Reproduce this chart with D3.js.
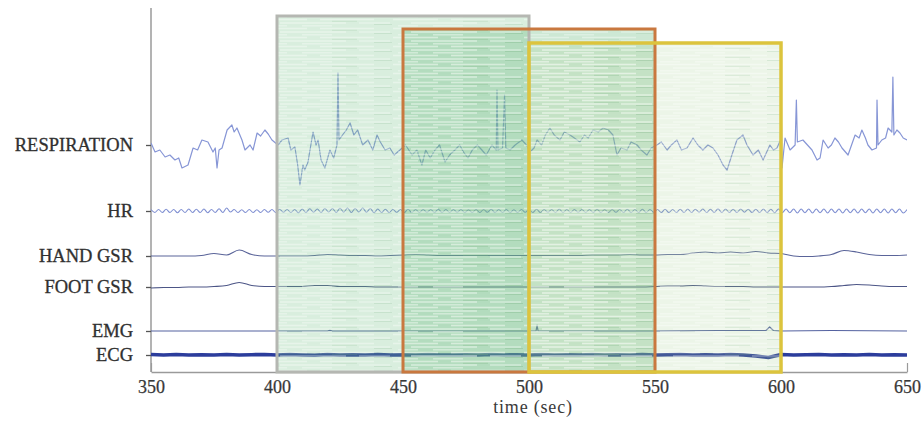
<!DOCTYPE html>
<html>
<head>
<meta charset="utf-8">
<script src="https://cdn.jsdelivr.net/npm/d3@7"></script>
<style>
  body { margin: 0; background: #fff; }
  svg { display: block; }
  text { font-family: "Liberation Serif", "Times New Roman", serif; }
</style>
</head>
<body>
<div id="chart"></div>
<script>
// channel names (top to bottom) and x axis ticks
const channels = ["RESPIRATION", "HR", "HAND GSR", "FOOT GSR", "EMG", "ECG"];
const xTicks = [350, 400, 450, 500, 550, 600, 650];

// the three analysis windows (sec)
const windowStart = [400, 450, 500];
const windowEnd = [500, 550, 600];

// respiration (time in sec, amplitude in arbitrary units)
const respTime = [350, 351.6, 353.5, 355.6, 357.5, 359.5, 361, 362.3, 364.7, 366.7, 368.5, 370.2, 372.6, 374.6, 375.5, 376.2, 377, 378.2,
  380.2, 382.1, 383, 384.1, 386.1, 387.3, 389.3, 390.5, 392.1, 393.5, 395.2, 396.5, 398, 400.4, 402, 404.4, 405.5, 407.1, 408.2,
  409.1, 410.3, 411, 412.3, 414.3, 415.5, 416.3, 417.5, 419, 421, 422.5, 423.8, 424.2, 424.6, 426, 427.5, 429, 430.5, 432, 434,
  436.1, 438, 439.7, 441, 442.9, 444.8, 446.5, 448.8, 451, 453.6, 455.5, 457.5, 459, 460.8, 462.7, 464.5, 466.7, 468.5, 470.6,
  472.5, 474, 475.8, 477.5, 479.5, 481.3, 483, 485.3, 487, 487.3, 487.7, 489.5, 490.3, 490.8, 492.5, 494.5, 497.2, 499, 500.4,
  502, 503.2, 505, 506.5, 508.3, 510, 512.3, 514, 516.3, 518, 520.2, 522, 523.5, 525.4, 527.5, 529.4, 531.5, 533.3, 534.9,
  536.5, 538.9, 540.5, 542.9, 544.5, 546.8, 548.5, 550.8, 552.5, 554.8, 556.5, 558.7, 560.5, 562.7, 565.1, 567, 569, 571, 573,
  575, 577, 578.6, 580.5, 582.5, 584.9, 586.5, 588.9, 591, 592.9, 595.6, 597, 598.4, 599.8, 600, 600.4, 601.6, 603.6, 605.6,
  606.1, 606.5, 608.7, 610.5, 612.3, 614.3, 615.5, 616.7, 618.7, 620, 621.4, 622.8, 624.2, 626.6, 628, 629.4, 631, 632.1, 633.5,
  634.5, 636.1, 637.9, 638.1, 638.5, 640, 641.5, 642.5, 644, 644.4, 644.8, 646, 647.2, 648.5, 650];
const respValue = [2, -7, -5, -12, -10, -15, -13, -23, -20, -3, -5, 5, 3, -7, -3, -23, -5, -3,
  15, 20, 13, 17, 5, -5, 0, -5, 12, 9, 15, 11, 5, 0, 5, 7, -5, -2, -20,
  -40, -20, -25, -17, 13, 0, 5, -15, -23, -5, -13, 0, 72, 5, 10, 15, 22, 10, 15, 0,
  5, -5, 10, 3, -5, -3, -10, -5, 0, -10, -5, -20, -5, -13, -5, 0, -17, -10, -5,
  0, -7, -13, -5, 0, -5, -10, 0, -5, 55, -5, -3, 50, -3, -5, 0, 5, 0, -7,
  -3, 5, 0, 10, 17, 10, 5, 13, 10, 7, 3, 10, 7, 15, 13, 17, 15, 10, -10,
  -3, -5, 3, 0, -5, -10, -3, 0, 3, -5, 0, 5, -5, -3, 7, 0, -5, 0, -3,
  -10, -20, -25, -10, 5, 10, 0, -10, -5, -15, 0, -5, -3, 5, 57, -23, 7, -5, 0,
  45, 3, 5, 0, -5, -15, -13, 5, -3, 0, 7, 3, -3, -10, 0, 10, 7, 15, 7,
  0, -5, -3, 45, 0, 5, 7, 17, 13, 68, 10, 15, 12, 7, 5];

// heart rate ripple, one value every 1.5 sec from 350
const hrStep = 1.5;
const hrValue = [
  1.5, -1.5, 1.5, -1.5, 1.8, -1.5, 1.5, -1.8, 1.5, -1.5, 2, -1.5, 1.8, -1.5, 2, -1.8, 1.5, -1.5, 2.2, -1.5,
  3, -1, 1.5, -1.5, 1.2, -1.5, 1.5, -1.5, 1.2, -1.5, 1.5, -1.2, 1.5, -1.5, 1.8, -1.2, 1.5, -1.5, 1.5, -1.8,
  2, -1.5, 2.2, -1.2, 2, -1.5, 2.5, -1, 2.5, -1.5, 2.8, -1.2, 3, -1.5, 2.5, -1, 3, -1.2, 2.5, -1.8,
  2, -1.5, 1.8, -1.5, 1.5, -1.2, 1.5, -1.5, 1.8, -1.5, 1.5, -1.5, 1.5, -1.2, 1.5, -1.5, 1.8, -1.5, 1.5, -1.5,
  1.5, -1.2, 1.5, -1.5, 1.2, -1.5, 1.5, -1.5, 1.5, -1.2, 1.8, -1.5, 1.5, -1.5, 1.5, -1.5, 1.2, -1.5, 1.5, -1.2,
  1.5, -1.5, 1.8, -1.5, 1.5, -1.2, 1.5, -1.5, 2, -1.5, 1.5, -1.5, 1.5, -1.2, 1.5, -1.5, 1.5, -1.5, 1.8, -1.5,
  1.5, -1.5, 1.5, -1.2, 1.5, -1.5, 1.8, -1.5, 1.5, -1.5, 1.8, -1.5, 1.5, -1.2, 1.5, -1.5, 1.8, -1.5, 1.5, -1.5,
  1.8, -1.5, 2, -1.5, 1.8, -1.2, 2, -1.5, 1.8, -1.5, 2.2, -1.5, 2, -1.5, 1.8, -1.5, 2, -1.2, 1.8, -1.5,
  1.8, -1.5, 2, -1.5, 1.8, -1.8, 2, -1.8, 2, -1.8, 2, -2, 2, -1.8, 2, -2, 2, -1.8, 2, -2,
  2, -1.8, 2, -2, 2, -1.8, 2, -2, 2, -1.8, 2, -2, 2, -1.8, 2, -2, 2, -1.8, 2, -2,
  1.5];

// skin conductance, one value every 5 sec from 350
const gsrStep = 5;
const handGsr = [0, 0, 0, 0, 0.5, 2.5, 1, 6, 1.5, 0, 0, 0, 0, 0.5, 1.5, 1, 0.5, 0.5, 0, 0.5,
  1, 1.5, 1, 0.5, 0.5, 0.5, 0.5, 0.5, 0.5, 0.5, 0.5, 0.5, 0.5, 0.5, 0.5, 1, 1, 1, 1.5, 1,
  1, 1.5, 1.5, 3, 4, 3, 4, 3, 4.5, 3, 2.5, 0, -0.5, 0, 1.5, 5.5, 4, 1.5, 0.5, 0.5, 1];
const footGsr = [-1, -0.5, -0.5, 0, 0, 0.5, 1.5, 4.5, 1.5, 0.5, 0.5, 0.5, 0.5, 1.5, 1.5, 0.5, 0.5, 0.5, 0, 0,
  0, 0, 0, 0, 0, 0, 0, 0, 0, 0, 0, 0, 0, 0, 0, 0, 0, 0, 0, 0,
  0.5, 1, 1, 1.5, 1, 0.5, 0.5, 0.5, 0, 0, 0, 0, 0, 0, 0.5, 1.5, 2.5, 2, 1, 0.5, 0.5];

// EMG is flat apart from two blips
const emgTime = [350, 420, 421, 422, 502.8, 503.2, 503.6, 550, 575, 594, 595.5, 597, 600, 620, 650];
const emgValue = [0, 0, 0.6, 0, 0, 6, 0, 0, 0.5, 0.5, 4, 0.5, 0, 0.5, 0];

// ECG band, one value every 5 sec from 350
const ecgStep = 5;
const ecgValue = [0.5, 0, 0.5, 0, 0.3, 0, 0.5, 0, 0.3, 0.5, 0, 0.5, 0, -0.3, 0.5, 0, 0.3, 0, 0.5, 0,
  0.3, 0, 0.5, 0, 0, 0.3, 0, 0.5, 0, 0.3, 0, 0.5, 0, 0.3, 0, 0.5, 0, 0.3, 0, 0.5,
  0, 0.3, 0.5, 0, 0.3, 0, 0.5, 0, -1, -2.5, 0.5, 0, 0.3, 0.5, 0, 0.3, 0, 0.5, 0, 0.3, 0];

// set the dimensions of the graph
const width = 923, height = 421;
const plot = { left: 151, right: 907, top: 8, bottom: 372 };

const svg = d3.select("#chart")
  .append("svg")
    .attr("width", width)
    .attr("height", height);

svg.append("rect").attr("width", width).attr("height", height).attr("fill", "#fff");

const x = d3.scaleLinear()
  .domain([350, 650])
  .range([plot.left, plot.right]);

// baseline of each trace
const baseline = d3.scaleOrdinal()
  .domain(channels)
  .range([145, 211, 256, 287, 331, 355]);

// amplitude scale for one channel (1 unit = 1 px upward)
const yFor = name => d3.scaleLinear()
  .domain([-50, 100])
  .range([baseline(name) + 50, baseline(name) - 100]);

const traces = [
  { name: "RESPIRATION", t: respTime, v: respValue, color: "#8796d6", w: 1.2, curve: d3.curveLinear },
  { name: "HR", t: hrValue.map((d, i) => 350 + i * hrStep), v: hrValue, color: "#8090d2", w: 1.1, curve: d3.curveCatmullRom },
  { name: "HAND GSR", t: handGsr.map((d, i) => 350 + i * gsrStep), v: handGsr, color: "#5a6499", w: 1.1, curve: d3.curveMonotoneX },
  { name: "FOOT GSR", t: footGsr.map((d, i) => 350 + i * gsrStep), v: footGsr, color: "#4c5586", w: 1.1, curve: d3.curveMonotoneX },
  { name: "EMG", t: emgTime, v: emgValue, color: "#5462a0", w: 1.2, curve: d3.curveLinear },
  { name: "ECG", t: ecgValue.map((d, i) => 350 + i * ecgStep), v: ecgValue, color: "#2c3d9c", w: 3.6, curve: d3.curveLinear }
];

// keep the traces inside the plot
svg.append("clipPath")
  .attr("id", "plotClip")
  .append("rect")
    .attr("x", plot.left).attr("y", 0)
    .attr("width", plot.right - plot.left).attr("height", plot.bottom);

// axes frame
svg.append("line")
  .attr("x1", plot.left).attr("x2", plot.left)
  .attr("y1", plot.top).attr("y2", plot.bottom)
  .attr("stroke", "#9a9a9a").attr("stroke-width", 1.5);

const xAxis = svg.append("g")
  .attr("transform", `translate(0, ${plot.bottom})`)
  .call(d3.axisBottom(x).tickValues(xTicks).tickSizeInner(-9).tickSizeOuter(0).tickPadding(8));
xAxis.select(".domain").attr("stroke", "#9a9a9a").attr("stroke-width", 1.5);
xAxis.selectAll(".tick line").attr("stroke", "#9a9a9a").attr("stroke-width", 1.2);
xAxis.selectAll("text")
  .style("font-family", '"Liberation Serif"')
  .style("font-size", "18px")
  .attr("fill", "#383838")
  .attr("stroke", "#383838").attr("stroke-width", 0.25);

const yAxis = svg.append("g")
  .attr("transform", `translate(${plot.left}, 0)`)
  .call(d3.axisLeft(baseline).tickSize(5).tickPadding(13));
yAxis.select(".domain").remove();
yAxis.selectAll(".tick line").attr("stroke", "#555").attr("stroke-width", 1.3);
yAxis.selectAll("text")
  .style("font-family", '"Liberation Serif"')
  .style("font-size", "18.5px")
  .attr("fill", "#303030")
  .attr("stroke", "#303030").attr("stroke-width", 0.3);

// the traces
svg.append("g")
  .attr("clip-path", "url(#plotClip)")
  .selectAll("myTraces")
  .data(traces)
  .enter()
  .append("path")
    .attr("d", d => d3.line()
      .x((v, i) => x(d.t[i]))
      .y(v => yFor(d.name)(v))
      .curve(d.curve)(d.v))
    .attr("fill", "none")
    .attr("stroke", d => d.color)
    .attr("stroke-width", d => d.w)
    .attr("stroke-linejoin", "round");

// streaky texture for the window fills
const defs = svg.append("defs");
const pat = defs.append("pattern")
  .attr("id", "streaks")
  .attr("patternUnits", "userSpaceOnUse")
  .attr("width", 131).attr("height", 9);
[[0, 45, 1.5], [58, 112, 1.5], [18, 84, 5], [97, 128, 5], [40, 70, 7.8], [5, 25, 7.8]].forEach(s => {
  pat.append("line")
    .attr("x1", s[0]).attr("x2", s[1]).attr("y1", s[2]).attr("y2", s[2])
    .attr("stroke", "#fff").attr("stroke-width", 1.3).attr("stroke-opacity", 0.75);
});
[[70, 95, 3.3], [112, 130, 6.5]].forEach(s => {
  pat.append("line")
    .attr("x1", s[0]).attr("x2", s[1]).attr("y1", s[2]).attr("y2", s[2])
    .attr("stroke", "#7fb58a").attr("stroke-width", 0.8).attr("stroke-opacity", 0.5);
});

const windowTop = [16, 29, 43];
const windowFill = ["#74c084", "#66b87c", "#a2cb8a"];
const windowFillOpacity = [0.27, 0.33, 0.2];
const windowStroke = ["#b5b7b2", "#c9783f", "#dcc43d"];
const windowStrokeWidth = [3, 3, 3.5];

const windows = windowStart.map((s, i) => ({ s, e: windowEnd[i], i }));

const wins = svg.selectAll("myWindows")
  .data(windows)
  .enter()
  .append("g");

wins.append("rect")
  .attr("x", d => x(d.s)).attr("width", d => x(d.e) - x(d.s))
  .attr("y", d => windowTop[d.i]).attr("height", d => plot.bottom - windowTop[d.i])
  .attr("fill", d => windowFill[d.i])
  .attr("fill-opacity", d => windowFillOpacity[d.i]);

wins.append("rect")
  .attr("x", d => x(d.s)).attr("width", d => x(d.e) - x(d.s))
  .attr("y", d => windowTop[d.i]).attr("height", d => plot.bottom - windowTop[d.i])
  .attr("fill", "url(#streaks)")
  .attr("opacity", 0.5);

svg.selectAll("myWindowBorders")
  .data(windows)
  .enter()
  .append("rect")
    .attr("x", d => x(d.s)).attr("width", d => x(d.e) - x(d.s))
    .attr("y", d => windowTop[d.i]).attr("height", d => plot.bottom - windowTop[d.i])
    .attr("fill", "none")
    .attr("stroke", d => windowStroke[d.i])
    .attr("stroke-width", d => windowStrokeWidth[d.i]);

// x axis title
svg.append("text")
  .attr("x", 533)
  .attr("y", 413)
  .attr("text-anchor", "middle")
  .style("font-family", '"Liberation Serif"')
  .style("font-size", "18px")
  .style("letter-spacing", "0.8px")
  .attr("fill", "#3a3a3a")
  .text("time (sec)");
</script>
</body>
</html>
